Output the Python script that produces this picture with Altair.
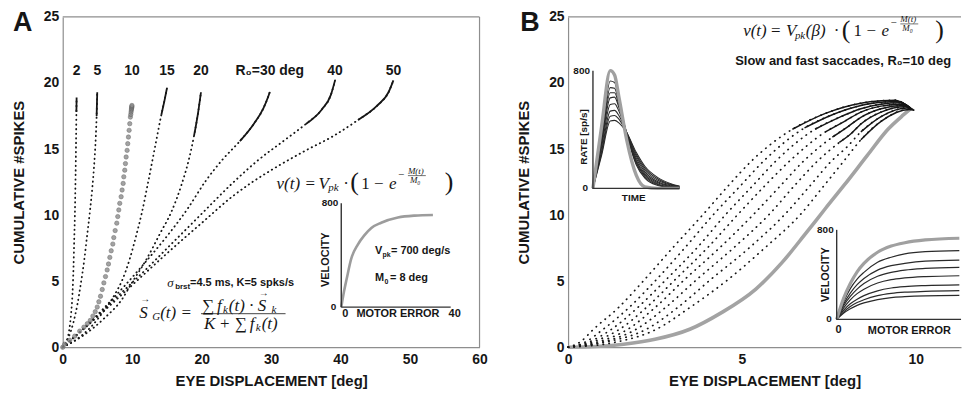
import altair as alt
import pandas as pd

FONT = "Liberation Sans"
SERIF = "Liberation Serif"
INK = "#161616"
GRAY = "#9c9c9c"
FRAME = "#8e8e8e"

# ---------------- Panel A data: cumulative spikes vs eye displacement, per R0 ----------------
A_NAMES = ["2", "5", "10", "15", "20", "R₀=30 deg", "40", "50"]
A_R2_X = [0, 0.5, 0.9, 1.2, 1.4, 1.55, 1.65, 1.75, 1.82, 1.88, 1.93, 1.97, 2.0]
A_R2_Y = [0, 0.4, 1.2, 2.5, 4.0, 6.0, 8.0, 10.0, 12.0, 14.0, 16.0, 17.8, 18.9]
A_R5_X = [0, 0.8, 1.5, 2.1, 2.6, 3.1, 3.5, 3.9, 4.25, 4.55, 4.75, 4.88, 4.97]
A_R5_Y = [0, 0.7, 1.8, 3.2, 4.8, 6.6, 8.4, 10.2, 12.0, 14.0, 15.8, 17.5, 19.3]
A_R10_X = [0, 0.29, 1.0, 1.72, 2.44, 3.05, 3.54, 3.97, 4.34, 4.68, 4.97, 5.2, 5.44, 5.69,
           5.92, 6.16, 6.4, 6.59, 6.78, 6.98, 7.21, 7.35, 7.55, 7.78, 7.92, 8.07, 8.21, 8.41,
           8.55, 8.7, 8.79, 8.93, 9.03, 9.13, 9.27, 9.36, 9.46, 9.56, 9.65, 9.74, 9.8, 9.84,
           9.88, 9.91, 9.93, 9.95, 9.96]
A_R10_Y = [0, 0.23, 0.53, 0.84, 1.22, 1.52, 1.78, 2.03, 2.36, 2.69, 3.04, 3.44, 3.86, 4.37,
           4.87, 5.35, 5.85, 6.3, 6.8, 7.3, 7.81, 8.3, 8.83, 9.39, 9.89, 10.39, 10.89, 11.39,
           11.9, 12.4, 12.9, 13.4, 13.9, 14.4, 14.9, 15.41, 15.91, 16.42, 16.92, 17.42, 17.62,
           17.8, 17.95, 18.05, 18.15, 18.22, 18.3]
A_R15_X = [0, 2, 4, 6, 7.5, 8.5, 9.6, 10.5, 11.4, 12.3, 13.3, 14.2, 14.7, 15.0]
A_R15_Y = [0, 0.6, 1.5, 2.8, 4.0, 5.0, 6.6, 8.3, 10.2, 12.5, 15.2, 17.6, 18.8, 19.6]
A_R20_X = [0, 3, 6, 8.5, 10.1, 12, 14, 15.6, 17.1, 18.2, 18.9, 19.5, 19.9]
A_R20_Y = [0, 0.9, 2.2, 3.6, 5.0, 6.6, 8.6, 10.2, 12.3, 14.3, 16.0, 17.8, 19.3]
A_R30_X = [0, 3, 6, 9, 12, 15, 18, 20.6, 23, 25.5, 27.5, 28.9, 29.6, 29.8]
A_R30_Y = [0, 1.4, 3.0, 4.7, 6.5, 8.4, 10.5, 12.6, 14.2, 15.6, 16.9, 18.1, 19.0, 19.3]
A_R40_X = [0, 4, 8, 12, 16, 20, 24.4, 28, 32, 35, 37.3, 38.6, 39.2]
A_R40_Y = [0, 1.9, 3.9, 5.9, 8.0, 10.1, 12.4, 14.1, 15.7, 16.9, 18.0, 19.1, 20.2]
A_R50_X = [0, 5, 10, 15, 20, 24.4, 27.3, 30, 35, 39, 42.5, 45.3, 46.9, 47.6]
A_R50_Y = [0, 2.3, 4.7, 7.1, 9.4, 11.4, 12.5, 13.4, 14.9, 16.0, 17.2, 18.3, 19.3, 20.2]
A_X = [A_R2_X, A_R5_X, A_R10_X, A_R15_X, A_R20_X, A_R30_X, A_R40_X, A_R50_X]
A_Y = [A_R2_Y, A_R5_Y, A_R10_Y, A_R15_Y, A_R20_Y, A_R30_Y, A_R40_Y, A_R50_Y]
A_X_TICKS = [0, 10, 20, 30, 40, 50, 60]
Y_TICKS = [0, 5, 10, 15, 20, 25]

# Panel A inset: velocity vs motor error
IA_M = [0, 1, 2, 3.6, 6, 8.5, 11, 14.6, 20.7, 26.8, 33.5]
IA_V = [0, 120, 220, 370, 480, 555, 610, 650, 690, 705, 710]

# ---------------- Panel B data: slow and fast saccades, R0 = 10 deg ----------------
B_DOT_X = [
    [0, 0.35, 0.73, 1.45, 2.2, 3.0, 3.9, 4.6, 5.3, 6.45, 7.4, 8.42, 9.0, 9.4, 9.8],
    [0, 0.5, 1.01, 1.75, 2.54, 3.35, 4.2, 4.95, 5.65, 6.8, 7.6, 8.42, 9.0, 9.5, 9.82],
    [0, 0.6, 1.25, 2.0, 2.82, 3.7, 4.55, 5.3, 6.0, 7.1, 7.8, 8.42, 9.0, 9.55, 9.84],
    [0, 0.7, 1.48, 2.25, 3.08, 4.0, 4.9, 5.65, 6.4, 7.4, 7.95, 8.42, 9.0, 9.6, 9.86],
    [0, 0.85, 1.72, 2.5, 3.35, 4.35, 5.35, 6.1, 6.8, 7.6, 8.05, 8.42, 9.0, 9.65, 9.88],
    [0, 1.0, 1.96, 2.8, 3.7, 4.75, 5.8, 6.5, 7.2, 7.8, 8.15, 8.42, 9.0, 9.7, 9.9],
    [0, 1.1, 2.25, 3.15, 4.1, 5.2, 6.25, 6.95, 7.6, 8.0, 8.42, 9.0, 9.75, 9.92],
    [0, 1.3, 2.54, 3.5, 4.6, 5.65, 6.7, 7.35, 7.95, 8.42, 9.0, 9.8, 9.94],
]
B_DOT_Y = [
    [0, 0.4, 1.36, 3.0, 5.12, 7.5, 10.1, 12.2, 14.16, 16.5, 17.7, 18.47, 18.65, 18.7, 18.2],
    [0, 0.4, 1.36, 3.0, 5.12, 7.5, 10.1, 12.2, 14.16, 16.6, 17.6, 18.3, 18.55, 18.6, 18.15],
    [0, 0.4, 1.36, 3.0, 5.12, 7.5, 10.1, 12.2, 14.16, 16.5, 17.4, 18.05, 18.4, 18.5, 18.1],
    [0, 0.4, 1.36, 3.0, 5.12, 7.5, 10.1, 12.2, 14.16, 16.3, 17.1, 17.8, 18.25, 18.4, 18.1],
    [0, 0.4, 1.36, 3.0, 5.12, 7.5, 10.1, 12.2, 14.16, 15.9, 16.7, 17.4, 18.05, 18.3, 18.05],
    [0, 0.4, 1.36, 3.0, 5.12, 7.5, 10.1, 12.2, 14.16, 15.5, 16.2, 16.9, 17.8, 18.2, 18.0],
    [0, 0.4, 1.36, 3.0, 5.12, 7.5, 10.1, 12.2, 14.16, 15.1, 16.3, 17.45, 18.1, 18.0],
    [0, 0.35, 1.36, 3.0, 5.12, 7.5, 10.1, 12.2, 14.16, 15.7, 17.1, 18.0, 17.95],
]
B_GRAY_X = [0, 0.8, 1.6, 2.5, 3.5, 4.4, 5.4, 6.15, 6.8, 7.4, 7.95, 8.6, 9.2, 9.65, 9.85]
B_GRAY_Y = [0, 0.05, 0.23, 0.6, 1.36, 2.6, 4.4, 6.4, 8.5, 10.5, 12.3, 14.5, 16.5, 17.6, 18.05]
B_X_TICKS = [0, 5, 10]

# Panel B inset 1: burst rate vs time
B1_T = [0, 10, 20, 25, 30, 39, 50, 60, 75, 90, 100]
B1_GRAY = [0, 420, 800, 770, 620, 330, 90, 10, 0, 0, 0]
B1_BLACK = [
    [0, 350, 730, 720, 600, 370, 160, 70, 20, 5, 0],
    [0, 330, 685, 680, 580, 370, 170, 80, 25, 8, 2],
    [0, 315, 650, 650, 565, 372, 180, 90, 30, 10, 3],
    [0, 300, 615, 620, 550, 375, 190, 100, 38, 13, 5],
    [0, 280, 570, 575, 525, 378, 205, 112, 45, 17, 7],
    [0, 255, 525, 530, 495, 380, 220, 125, 55, 22, 9],
    [0, 240, 490, 495, 470, 380, 232, 138, 64, 27, 12],
    [0, 225, 458, 462, 445, 378, 245, 150, 73, 32, 15],
]
# Panel B inset 2: velocity vs motor error
B2_M = [0, 2, 4, 6, 8, 12, 16, 20, 26, 36]
B2_GRAY = [0, 185, 320, 425, 500, 600, 655, 685, 710, 725]
B2_BLACK = [
    [0, 155, 275, 360, 420, 510, 555, 585, 605, 615],
    [0, 135, 235, 310, 365, 440, 480, 500, 520, 530],
    [0, 120, 205, 270, 320, 385, 420, 440, 455, 465],
    [0, 100, 175, 230, 270, 325, 355, 370, 382, 390],
    [0, 80, 140, 180, 212, 255, 280, 293, 302, 308],
    [0, 65, 115, 150, 175, 212, 232, 243, 250, 256],
    [0, 55, 95, 125, 147, 177, 195, 203, 210, 214],
]

# ---------------- style ----------------
A_SOLID_FROM = [17.0, 17.0, 99.0, 16.5, 16.0, 14.5, 16.0, 17.0]
B_SOLID_FROM = 15.5
WA, HA = 419, 332
WB, HB = 395, 332

ONE = pd.DataFrame({"_": [0]})


def T(text, x, y, size=11, weight="bold", font=FONT, style="normal", align="left", angle=0):
    kw = dict(text=text, fontSize=size, fontWeight=weight, font=font, fontStyle=style,
              align=align, baseline="middle", color=INK)
    if angle:
        kw["angle"] = angle
    return alt.Chart(ONE).mark_text(**kw).encode(x=alt.value(x), y=alt.value(y))


def TD(text, xd, yd, xs, ys, dx=0, dy=0, size=10, align="center"):
    return alt.Chart(ONE).mark_text(
        text=text, fontSize=size, fontWeight="bold", font=FONT, align=align,
        baseline="middle", color=INK, dx=dx, dy=dy
    ).encode(x=alt.XDatum(xd, scale=xs, axis=None), y=alt.YDatum(yd, scale=ys, axis=None))


def M(text, x, y, size=17, italic=True, align="left"):
    return T(text, x, y, size=size, weight="normal", font=SERIF,
             style="italic" if italic else "normal", align=align)


def rule_px(x, y, x2=None, y2=None, color=FRAME, width=1.2):
    enc = dict(x=alt.value(x), y=alt.value(y))
    if x2 is not None:
        enc["x2"] = alt.value(x2)
    if y2 is not None:
        enc["y2"] = alt.value(y2)
    return alt.Chart(ONE).mark_rule(color=color, strokeWidth=width).encode(**enc)


def long_df(xs_list, ys_list, names):
    rows = []
    for n, xs, ys in zip(names, xs_list, ys_list):
        for i, (x, y) in enumerate(zip(xs, ys)):
            rows.append({"name": n, "i": i, "x": x, "y": y})
    return pd.DataFrame(rows)


def inset_axes(xs, ys, xmax, ymax, color="#333333"):
    return [
        alt.Chart(ONE).mark_rule(color=color, strokeWidth=1.4).encode(
            x=alt.XDatum(0, scale=xs, axis=None), y=alt.YDatum(0, scale=ys, axis=None),
            y2=alt.Y2Datum(ymax)),
        alt.Chart(ONE).mark_rule(color=color, strokeWidth=1.4).encode(
            x=alt.XDatum(0, scale=xs, axis=None), x2=alt.X2Datum(xmax),
            y=alt.YDatum(0, scale=ys, axis=None)),
    ]


# ================= Panel A =================
xA = alt.Scale(domain=[0, 60], nice=False, zero=False)
yA = alt.Scale(domain=[0, 25], nice=False, zero=False)
axXA = alt.Axis(values=A_X_TICKS, title="EYE DISPLACEMENT [deg]", labelPadding=5, titlePadding=7)
axY = alt.Axis(values=Y_TICKS, title="CUMULATIVE #SPIKES", labelPadding=4, titlePadding=17)

dfA = long_df(A_X, A_Y, A_NAMES)
dfA_lines = dfA[dfA["name"] != "10"]
thr = dict(zip(A_NAMES, A_SOLID_FROM))
dfA_solid = dfA_lines[dfA_lines["y"] >= dfA_lines["name"].map(thr)]
dfA_circ = dfA[dfA["name"] == "10"]
dfA_lab = pd.DataFrame({"name": A_NAMES, "x": [xs[-1] for xs in A_X]})

a_dots = alt.Chart(dfA_lines).mark_line(
    color=INK, strokeWidth=1.8, strokeDash=[0.4, 4.2], strokeCap="round", interpolate="monotone"
).encode(x=alt.X("x:Q", scale=xA, axis=axXA), y=alt.Y("y:Q", scale=yA, axis=axY),
         detail="name:N", order="i:Q")
a_solid = alt.Chart(dfA_solid).mark_line(color=INK, strokeWidth=1.8, interpolate="monotone").encode(
    x=alt.X("x:Q", scale=xA, axis=None), y=alt.Y("y:Q", scale=yA, axis=None),
    detail="name:N", order="i:Q")
a_circ = alt.Chart(dfA_circ).mark_circle(
    size=19, color="#8c8c8c", opacity=0.8, stroke="#555555", strokeWidth=0.6
).encode(x=alt.X("x:Q", scale=xA, axis=None), y=alt.Y("y:Q", scale=yA, axis=None))
a_lab = alt.Chart(dfA_lab).mark_text(
    font=FONT, fontSize=14, fontWeight="bold", color=INK, baseline="middle"
).encode(x=alt.X("x:Q", scale=xA, axis=None), y=alt.YDatum(20.9, scale=yA, axis=None),
         text="name:N")

mainA = [
    a_dots, a_solid, a_circ, a_lab,
    rule_px(0, 0, x2=WA), rule_px(WA, 0, y2=HA),
    T("A", -50, 6, size=27),
    # v(t) = Vpk (1 - e^{-M(t)/M0})
    M("v(t)", 215, 167.5), M("=", 244, 167.5, italic=False), M("V", 257, 167.5),
    M("pk", 267, 172, size=11), M("·", 282, 167.5, italic=False),
    M("(", 289, 166, size=26, italic=False), M("1", 300, 167.5, italic=False),
    M("−", 313, 167.5, italic=False), M("e", 328, 167.5),
    M("−", 337, 159, size=11, italic=False), M("M(t)", 347, 155, size=9),
    rule_px(347, 159.5, x2=365, color=INK, width=0.6), M("M₀", 349, 164, size=9),
    M(")", 384, 166, size=26, italic=False),
    # sigma / K annotation
    M("σ", 105, 267, size=13), T("brst", 113, 271, size=8),
    T("=4.5 ms, K=5 spks/s", 128, 267, size=11),
    # S_G(t) formula
    M("S", 77, 297.5), M("→", 78, 284, size=10, italic=False), M("G", 90, 302, size=11),
    M("(t) =", 98, 297.5),
    M("∑", 140, 291, italic=False), M("f", 155, 291), M("k", 161, 295, size=11),
    M("(t)", 167, 291), M("·", 187, 291, italic=False), M("S", 196, 291),
    M("→", 197, 277.5, size=10, italic=False), M("k", 210, 295, size=11),
    rule_px(139, 298.3, x2=224, color=INK, width=0.8),
    M("K", 142, 309), M("+", 158, 309, italic=False), M("∑", 173, 309, italic=False),
    M("f", 188, 309), M("k", 194, 313, size=11), M("(t)", 200, 309),
]

xIA = alt.Scale(domain=[0, 40], range=[280, 390], nice=False, zero=False)
yIA = alt.Scale(domain=[0, 800], range=[291.7, 187.3], nice=False, zero=False)
dfIA = pd.DataFrame({"m": IA_M, "v": IA_V})
insetA = [
    alt.Chart(dfIA).mark_line(color=GRAY, strokeWidth=2.6, interpolate="monotone").encode(
        x=alt.X("m:Q", scale=xIA, axis=None), y=alt.Y("v:Q", scale=yIA, axis=None)),
    *inset_axes(xIA, yIA, 40, 800),
    TD("800", 0, 800, xIA, yIA, dx=-3, align="right"),
    TD("0", 0, 0, xIA, yIA, dx=-5, align="right"),
    TD("0", 0, 0, xIA, yIA, dx=4, dy=7, size=11),
    TD("40", 40, 0, xIA, yIA, dx=4, dy=7, size=11),
    T("MOTOR ERROR", 337, 298.5, size=11, align="center"),
    T("VELOCITY", 265, 244, size=11, align="center", angle=270),
    T("V", 314, 235, size=11), T("pk", 321.5, 239, size=7), T("= 700 deg/s", 330, 235, size=11),
    T("M", 314, 262, size=11), T("0", 323.5, 266, size=7), T("= 8 deg", 329, 262, size=11),
]

panelA = alt.layer(*mainA, *insetA).resolve_scale(
    x="independent", y="independent").properties(width=WA, height=HA)

# ================= Panel B =================
xB = alt.Scale(domain=[0, 11.3], nice=False, zero=False)
yB = alt.Scale(domain=[0, 25], nice=False, zero=False)
axXB = alt.Axis(values=B_X_TICKS, title="EYE DISPLACEMENT [deg]", labelPadding=5, titlePadding=7)

dfB = long_df(B_DOT_X, B_DOT_Y, [f"c{k}" for k in range(len(B_DOT_X))])
dfB_solid = dfB[dfB["y"] >= B_SOLID_FROM]
dfBg = pd.DataFrame({"x": B_GRAY_X, "y": B_GRAY_Y})

mainB = [
    alt.Chart(dfBg).mark_line(color="#a3a3a3", strokeWidth=3.6, interpolate="monotone").encode(
        x=alt.X("x:Q", scale=xB, axis=axXB), y=alt.Y("y:Q", scale=yB, axis=axY)),
    alt.Chart(dfB).mark_line(color=INK, strokeWidth=1.7, strokeDash=[0.4, 5.5], strokeCap="round",
                             interpolate="monotone").encode(
        x=alt.X("x:Q", scale=xB, axis=None), y=alt.Y("y:Q", scale=yB, axis=None),
        detail="name:N", order="i:Q"),
    alt.Chart(dfB_solid).mark_line(color=INK, strokeWidth=1.5, interpolate="monotone").encode(
        x=alt.X("x:Q", scale=xB, axis=None), y=alt.Y("y:Q", scale=yB, axis=None),
        detail="name:N", order="i:Q"),
    rule_px(0, 0, x2=WB),
    T("B", -48, 6, size=27),
    M("v(t)", 176, 14.5), M("=", 204, 14.5, italic=False), M("V", 219, 14.5),
    M("pk", 228, 19, size=11), M("(β)", 239, 14.5), M("·", 267, 14.5, italic=False),
    M("(", 275, 13, size=26, italic=False), M("1", 287, 14.5, italic=False),
    M("−", 300, 14.5, italic=False), M("e", 315, 14.5),
    M("−", 324, 6, size=11, italic=False), M("M(t)", 334, 2.5, size=9),
    rule_px(334, 7, x2=352, color=INK, width=0.6), M("M₀", 336, 11.5, size=9),
    M(")", 369, 13, size=26, italic=False),
    T("Slow and fast saccades, R₀=10 deg", 276.5, 44, size=13, align="center"),
]

xIB1 = alt.Scale(domain=[0, 100], range=[25, 112], nice=False, zero=False)
yIB1 = alt.Scale(domain=[0, 800], range=[172.3, 54], nice=False, zero=False)
dfB1 = long_df([B1_T] * len(B1_BLACK), B1_BLACK, [f"r{k}" for k in range(len(B1_BLACK))])
dfB1g = pd.DataFrame({"x": B1_T, "y": B1_GRAY})
insetB1 = [
    alt.Chart(dfB1).mark_line(color="#2a2a2a", strokeWidth=1.1, interpolate="monotone").encode(
        x=alt.X("x:Q", scale=xIB1, axis=None), y=alt.Y("y:Q", scale=yIB1, axis=None),
        detail="name:N", order="i:Q"),
    alt.Chart(dfB1g).mark_line(color="#a0a0a0", strokeWidth=3.4, interpolate="monotone").encode(
        x=alt.X("x:Q", scale=xIB1, axis=None), y=alt.Y("y:Q", scale=yIB1, axis=None)),
    *inset_axes(xIB1, yIB1, 100, 800),
    TD("800", 0, 800, xIB1, yIB1, dx=-3, align="right"),
    TD("0", 0, 0, xIB1, yIB1, dx=-5, align="right"),
    T("TIME", 66, 182, size=10, align="center"),
    T("RATE [sp/s]", 16, 120.7, size=10, align="center", angle=270),
]

xIB2 = alt.Scale(domain=[0, 40], range=[270, 407], nice=False, zero=False)
yIB2 = alt.Scale(domain=[0, 800], range=[304, 214], nice=False, zero=False)
dfB2 = long_df([B2_M] * len(B2_BLACK), B2_BLACK, [f"v{k}" for k in range(len(B2_BLACK))])
dfB2g = pd.DataFrame({"x": B2_M, "y": B2_GRAY})
insetB2 = [
    alt.Chart(dfB2).mark_line(color="#2a2a2a", strokeWidth=1.2, interpolate="monotone").encode(
        x=alt.X("x:Q", scale=xIB2, axis=None), y=alt.Y("y:Q", scale=yIB2, axis=None),
        detail="name:N", order="i:Q"),
    alt.Chart(dfB2g).mark_line(color="#a0a0a0", strokeWidth=3.2, interpolate="monotone").encode(
        x=alt.X("x:Q", scale=xIB2, axis=None), y=alt.Y("y:Q", scale=yIB2, axis=None)),
    *inset_axes(xIB2, yIB2, 36.5, 800),
    TD("800", 0, 800, xIB2, yIB2, dx=-3, align="right"),
    TD("0", 0, 0, xIB2, yIB2, dx=-5, align="right"),
    TD("0", 0, 0, xIB2, yIB2, dx=2, dy=11, size=11),
    T("MOTOR ERROR", 343, 315.7, size=11, align="center"),
    T("VELOCITY", 259, 259, size=11, align="center", angle=270),
]

panelB = alt.layer(*mainB, *insetB1, *insetB2).resolve_scale(
    x="independent", y="independent").properties(width=WB, height=HB)

chart = alt.hconcat(panelA, panelB, spacing=29).properties(
    padding={"left": 3, "top": 0, "right": 0, "bottom": 0}
).configure_view(strokeWidth=0).configure_axis(
    labelFont=FONT, titleFont=FONT, labelFontSize=14, labelFontWeight="bold",
    titleFontSize=15, titleFontWeight="bold", labelColor=INK, titleColor=INK,
    domainColor=FRAME, domainWidth=1.2, ticks=False, tickSize=0, grid=False, labelFlush=False
)

chart.save("out.html", embed_options={"renderer": "svg", "actions": False})
